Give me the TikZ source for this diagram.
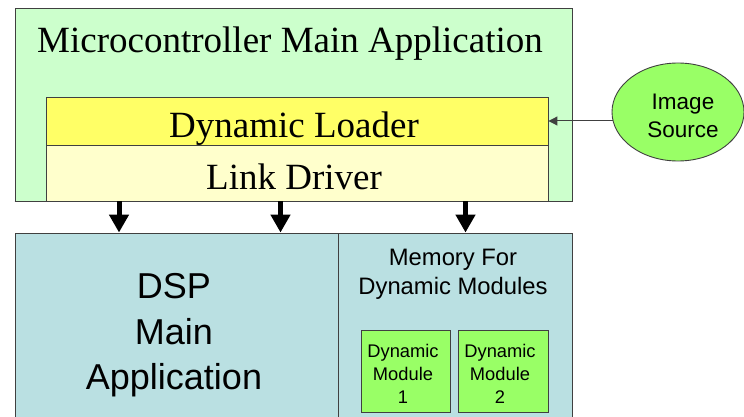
\documentclass[tikz,border=0pt]{standalone}
\usepackage{fontspec}
\setmainfont{Liberation Serif}
\newfontfamily\arial{Liberation Sans}
\usetikzlibrary{arrows.meta,shapes.geometric}
\definecolor{mcgreen}{HTML}{CCFFCC}
\definecolor{loaderyellow}{HTML}{FFFF66}
\definecolor{linkyellow}{HTML}{FFFFCC}
\definecolor{dspblue}{HTML}{BAE0E2}
\definecolor{brightgreen}{HTML}{99FF66}
\definecolor{edge}{HTML}{404040}
\tikzset{
  box/.style={draw=edge, line width=0.9pt, rectangle, inner sep=0pt, minimum width=#1},
  serifbig/.style={font=\fontsize{37}{44}\selectfont, anchor=base, inner sep=0pt},
  sansbig/.style={font=\arial\fontsize{36}{42}\selectfont, anchor=base, inner sep=0pt},
  sansmid/.style={font=\arial\fontsize{22.5}{27}\selectfont, anchor=base, inner sep=0pt},
  sansmem/.style={font=\arial\fontsize{23.8}{28}\selectfont, anchor=base, inner sep=0pt},
  sanssmall/.style={font=\arial\fontsize{18.3}{22}\selectfont, anchor=base, inner sep=0pt},
  bigarrow/.style={line width=5pt, -{Triangle[width=19pt,length=18pt]}},
  thinarrow/.style={draw=edge, line width=1pt, -{Triangle[width=9pt,length=9pt]}},
}
\begin{document}
\begin{tikzpicture}[x=1pt,y=-1pt]
\useasboundingbox (0,0) rectangle (744,417);
\clip (0,0) rectangle (744,417);
% top box
\node[box=557pt, minimum height=193pt, fill=mcgreen] (mc) at (293.5,104.5) {};
\node[serifbig] (mctitle) at (290,52.5) {Microcontroller Main Application};
\node[box=501.5pt, minimum height=48pt, fill=loaderyellow] (loader) at (297.25,121) {};
\node[box=501.5pt, minimum height=56pt, fill=linkyellow] (link) at (297.25,173) {};
\node[serifbig] (loadertext) at (294,137.5) {Dynamic Loader};
\node[serifbig] (linktext) at (294,189.5) {Link Driver};
\draw[draw=edge, line width=0.9pt] (mc.south west) -- (mc.south east);
% image source
\node[ellipse, draw=edge, line width=0.9pt, fill=brightgreen, minimum width=132pt, minimum height=98pt, inner sep=0pt] (img) at (678,112) {};
\node[sansmid] (imgt1) at (683,110) {Image};
\node[sansmid] (imgt2) at (683,138) {Source};
\coordinate (imgedge) at ([xshift=1pt]loader.east -| img.west);
\draw[thinarrow] (imgedge) -- (loader.east);
% bottom boxes
\node[box=323pt, minimum height=200pt, fill=dspblue] (dsp) at (176.5,333) {};
\node[box=234pt, minimum height=200pt, fill=dspblue] (mem) at (455,333) {};
\node[sansbig] (dspt1) at (174,298) {DSP};
\node[sansbig] (dspt2) at (174,344) {Main};
\node[sansbig] (dspt3) at (174,389) {Application};
\node[sansmem] (memt1) at (453,265) {Memory For};
\node[sansmem] (memt2) at (453,294) {Dynamic Modules};
\node[box=88.5pt, minimum height=82pt, fill=brightgreen] (mod1) at (405.8,371) {};
\node[box=90pt, minimum height=82pt, fill=brightgreen] (mod2) at (503,371) {};
\node[sanssmall] (m1a) at (403,357) {Dynamic};
\node[sanssmall] (m1b) at (403,380) {Module};
\node[sanssmall] (m1c) at (403,403) {1};
\node[sanssmall] (m2a) at (500,357) {Dynamic};
\node[sanssmall] (m2b) at (500,380) {Module};
\node[sanssmall] (m2c) at (500,403) {2};
% arrows
\draw[bigarrow] (mc.south -| 119,0) -- (dsp.north -| 119,0);
\draw[bigarrow] (mc.south -| 280.5,0) -- (dsp.north -| 280.5,0);
\draw[bigarrow] (mc.south -| 465.5,0) -- (mem.north -| 465.5,0);
\end{tikzpicture}
\end{document}
